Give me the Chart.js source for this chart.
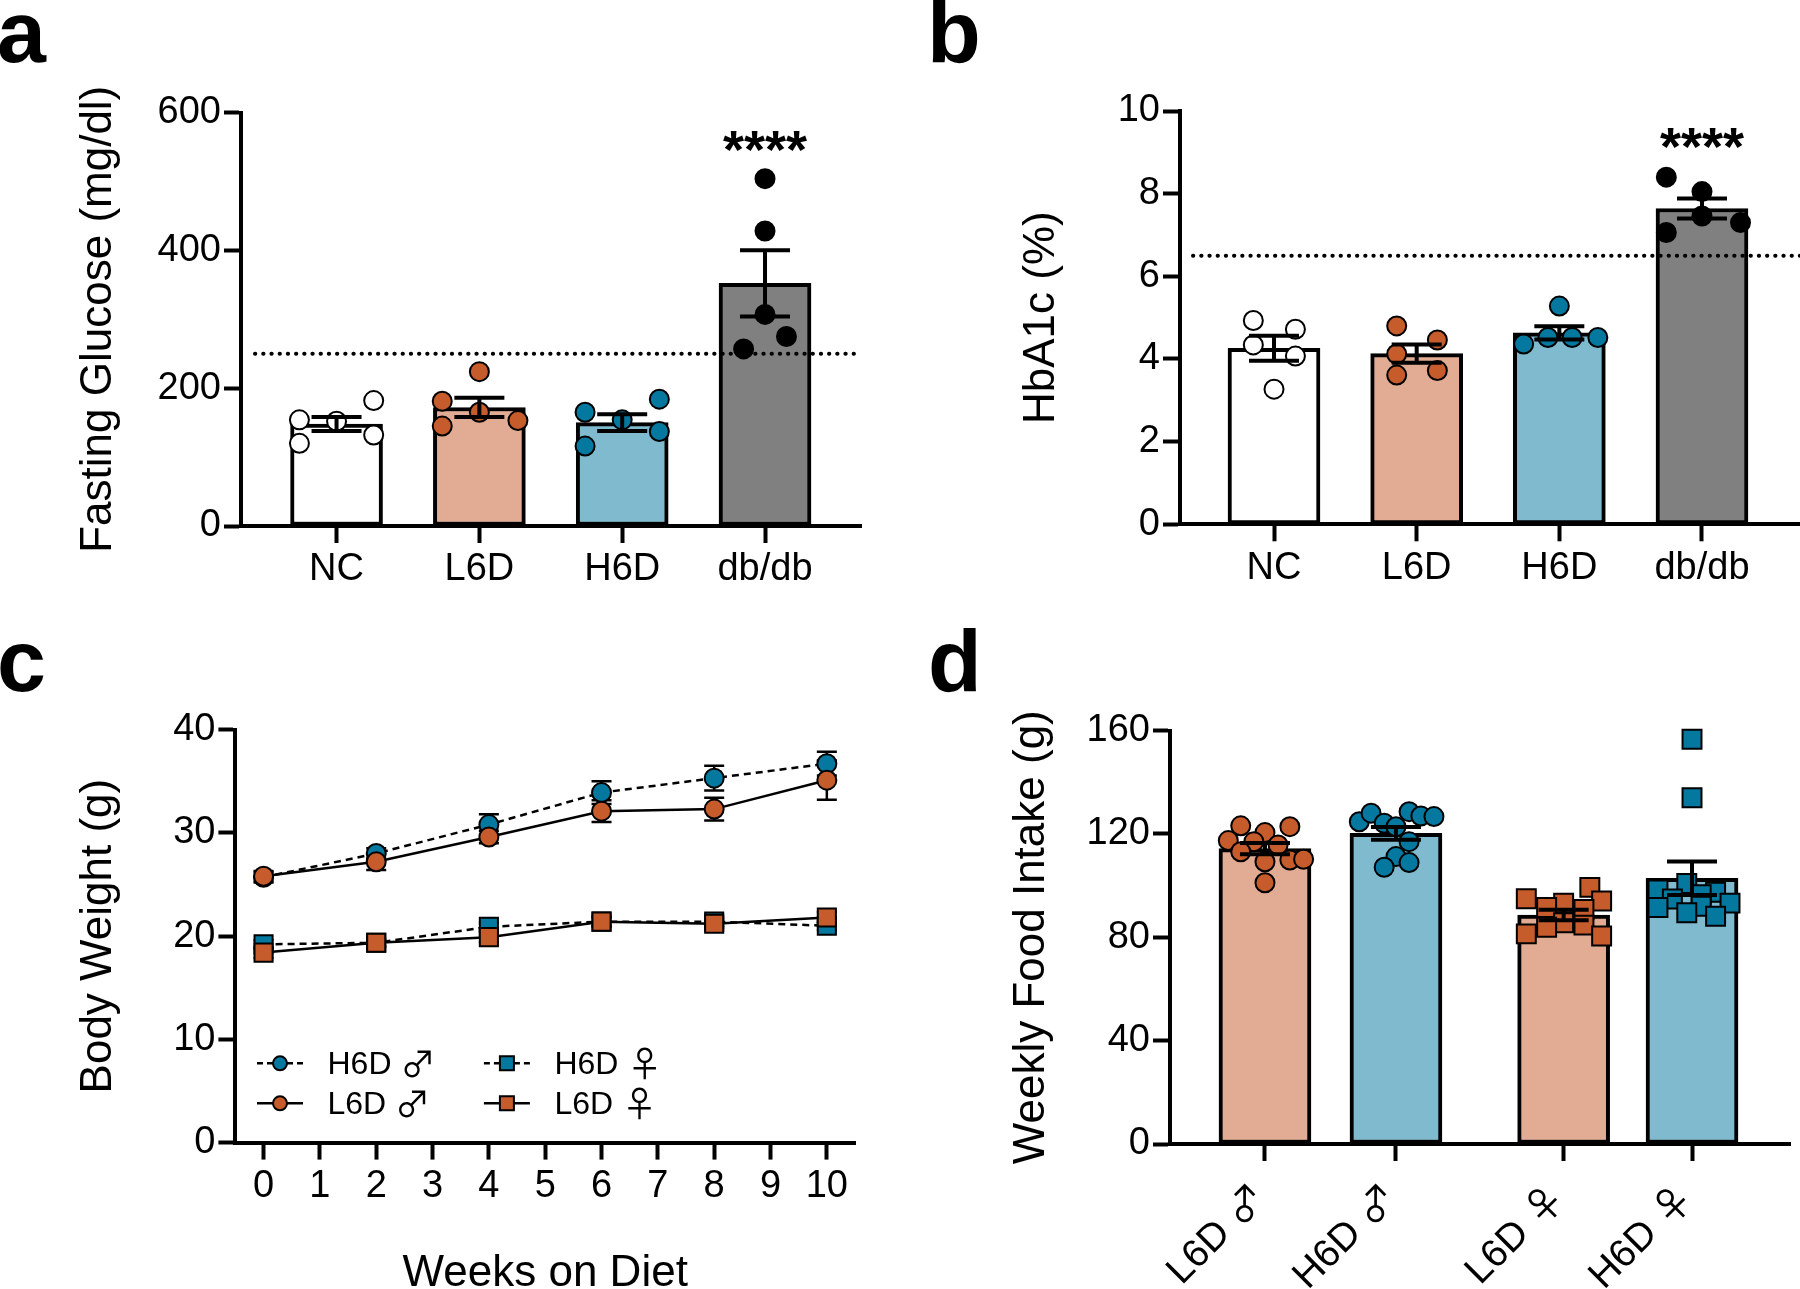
<!DOCTYPE html>
<html><head><meta charset="utf-8">
<script src="https://cdn.jsdelivr.net/npm/chart.js@4.4.1/dist/chart.umd.min.js"></script>
<style>
html,body{margin:0;padding:0;background:#fff;width:1800px;height:1289px;overflow:hidden;position:relative;font-family:'Liberation Sans',Arial,Helvetica,sans-serif;}
canvas{position:absolute;}
.lbl{position:absolute;font-weight:bold;font-size:88px;line-height:88px;color:#000;}
</style></head><body>
<div class="lbl" style="left:-3px;top:-12px">a</div>
<div class="lbl" style="left:927px;top:-12px">b</div>
<div class="lbl" style="left:-3px;top:617px">c</div>
<div class="lbl" style="left:928px;top:617px">d</div>
<canvas id="ca" width="900" height="600" style="left:0;top:0"></canvas>
<canvas id="cb" width="930" height="600" style="left:900px;top:0"></canvas>
<canvas id="cc" width="900" height="703" style="left:0;top:600px"></canvas>
<canvas id="cd" width="930" height="700" style="left:900px;top:600px"></canvas>
<script>
// ---------------- DATA ----------------
// Panel a: fasting glucose (mg/dl)
const groupsA = ['NC', 'L6D', 'H6D', 'db/db'];
const meanA = [148, 172, 150, 352];
const semA = [10, 14, 12, 48];
const ncA = [154, 152, 182, 120, 132];
const l6dA = [224, 181, 165, 145, 153];
const h6dA = [165, 154, 184, 116, 137];
const dbA = [504, 428, 307, 275, 257];
const ncAJit = [-0.26, 0, 0.26, -0.26, 0.26];
const l6dAJit = [0, -0.26, 0, -0.26, 0.27];
const h6dAJit = [-0.26, 0, 0.26, -0.26, 0.26];
const dbAJit = [0, 0, 0, 0.15, -0.15];
const thresholdA = 250;

// Panel b: HbA1c (%)
const groupsB = ['NC', 'L6D', 'H6D', 'db/db'];
const meanB = [4.26, 4.13, 4.63, 7.64];
const semB = [0.30, 0.22, 0.16, 0.24];
const ncB = [4.93, 4.72, 4.34, 4.07, 3.27];
const l6dB = [4.80, 4.46, 4.12, 3.61, 3.72];
const h6dB = [5.28, 4.36, 4.52, 4.52, 4.52];
const dbB = [8.40, 8.05, 7.46, 7.06, 7.30];
const ncBJit = [-0.145, 0.15, -0.145, 0.15, 0];
const l6dBJit = [-0.14, 0.145, -0.14, -0.14, 0.145];
const h6dBJit = [0, -0.25, -0.08, 0.09, 0.27];
const dbBJit = [-0.25, 0, 0, -0.25, 0.27];
const thresholdB = 6.5;

// Panel c: body weight (g) over weeks
const weeks = [0, 2, 4, 6, 8, 10];
const weekTicks = [0, 1, 2, 3, 4, 5, 6, 7, 8, 9, 10];
const h6dMale = [25.7, 28.0, 30.8, 33.9, 35.3, 36.7];
const h6dMaleErr = [0.5, 0.5, 1.0, 1.1, 1.2, 1.15];
const l6dMale = [25.8, 27.2, 29.6, 32.1, 32.3, 35.1];
const l6dMaleErr = [0.5, 0.8, 0.6, 1.05, 1.1, 1.9];
const h6dFemale = [19.2, 19.35, 20.9, 21.4, 21.4, 21.0];
const h6dFemaleErr = [0.4, 0.3, 0.4, 0.4, 0.4, 0.4];
const l6dFemale = [18.4, 19.35, 19.9, 21.4, 21.2, 21.8];
const l6dFemaleErr = [0.5, 0.4, 0.5, 0.5, 0.4, 0.5];

// Panel d: weekly food intake (g)
const groupsD = ['L6D \u2642', 'H6D \u2642', 'L6D \u2640', 'H6D \u2640'];
const posD = [0, 1, 2.28, 3.26];
const meanD = [114.3, 120.2, 88.6, 102.8];
const semD = [2.2, 2.5, 2.0, 6.5];
const l6dMaleD = [123.1, 120.5, 122.8, 117.4, 117.0, 115.7, 113.1, 109.2, 109.9, 110.2, 101.1];
const l6dMaleDJit = [-0.185, 0, 0.19, -0.28, -0.085, 0.1, -0.185, 0, 0.19, 0.295, 0];
const h6dMaleD = [124.7, 128.0, 124.1, 122.8, 128.6, 126.9, 126.7, 117.0, 111.2, 107.1, 108.9];
const h6dMaleDJit = [-0.28, -0.19, -0.09, 0, 0.1, 0.19, 0.29, 0.1, 0, -0.09, 0.1];
const l6dFemaleD = [99.3, 94.9, 93.2, 94.0, 91.5, 90.7, 85.6, 84.7, 83.9, 81.3, 80.5];
const l6dFemaleDJit = [0.2, -0.285, 0, 0.29, -0.13, 0.155, 0, 0.155, -0.13, -0.285, 0.29];
const h6dFemaleD = [156.6, 134.0, 100.8, 98.3, 97.4, 96.5, 94.8, 93.2, 92.0, 91.5, 89.5, 88.1];
const h6dFemaleDJit = [0, 0, -0.04, -0.26, 0.18, 0.07, -0.15, 0.29, 0.07, -0.26, -0.04, 0.18];

// ---------------- STYLE ----------------
const ORANGE = '#C65B2C', SALMON = '#E2AC94', BLUE = '#04789F', LIGHTBLUE = '#80BACE', GRAY = '#808080';
const FONT = "'Liberation Sans', Arial, Helvetica, sans-serif";
const SYMFONT = "'Noto Sans CJK JP', 'Noto Sans CJK SC', 'DejaVu Sans', sans-serif";
Chart.defaults.font.family = FONT;
Chart.defaults.color = '#000';
Chart.defaults.animation = false;

const gridOpts = { display: true, offset: false, drawOnChartArea: false, drawTicks: true, tickLength: 17, tickWidth: 4, tickColor: '#000' };
const borderOpts = { display: true, color: '#000', width: 4, z: 1 };

function yAxis(o) {
  return {
    type: 'linear', position: 'left', min: o.min, max: o.max, offset: false,
    ticks: { stepSize: o.step, font: { size: 38 }, padding: 3, color: '#000' },
    grid: gridOpts, border: borderOpts,
    title: { display: true, text: o.title, color: '#000', font: { size: 44 }, padding: { top: o.titlePad, bottom: 0 } },
    afterFit: (s) => { s.width = o.width; }
  };
}
function xAxis(o) {
  return {
    type: 'linear', position: 'bottom', min: o.min, max: o.max, offset: false, bounds: 'data',
    afterBuildTicks: (s) => { s.ticks = o.pos.map(v => ({ value: v })); },
    ticks: {
      display: !o.hideLabels, autoSkip: false, font: { size: 38 }, padding: 4, color: '#000',
      minRotation: 0, maxRotation: 0,
      callback: (v) => { const i = o.pos.indexOf(v); return i >= 0 ? o.labels[i] : ''; }
    },
    grid: gridOpts, border: borderOpts,
    title: o.title ? { display: true, text: o.title, color: '#000', font: { size: 44 }, padding: { top: 0, bottom: o.titlePad } } : { display: false },
    afterFit: (s) => { s.height = o.height; }
  };
}
function pts(vals, jit, pos) { return vals.map((v, i) => ({ x: pos + jit[i], y: v })); }

function errPlugin(items, cap, lw, layer) {
  const draw = (chart) => {
    const { ctx } = chart; const x = chart.scales.x, y = chart.scales.y;
    ctx.save(); ctx.strokeStyle = '#000'; ctx.lineWidth = lw; ctx.lineCap = 'butt';
    items.forEach(it => {
      const px = x.getPixelForValue(it.x), t = y.getPixelForValue(it.y + it.e), b = y.getPixelForValue(it.y - it.e);
      ctx.beginPath();
      ctx.moveTo(px, t); ctx.lineTo(px, b);
      ctx.moveTo(px - cap, t); ctx.lineTo(px + cap, t);
      ctx.moveTo(px - cap, b); ctx.lineTo(px + cap, b);
      ctx.stroke();
    });
    ctx.restore();
  };
  return {
    id: 'errbars',
    beforeDatasetsDraw(chart) { if (layer === 'before') draw(chart); },
    afterDatasetsDraw(chart) { if (layer !== 'before') draw(chart); }
  };
}
function refLinePlugin(value, startOff, endOff) {
  return {
    id: 'refline',
    afterDatasetsDraw(chart) {
      const { ctx, chartArea } = chart; const y = chart.scales.y.getPixelForValue(value);
      ctx.save(); ctx.strokeStyle = '#000'; ctx.lineWidth = 4; ctx.lineCap = 'round'; ctx.setLineDash([0.3, 7.9]);
      ctx.beginPath(); ctx.moveTo(chartArea.left + startOff, y); ctx.lineTo(chartArea.right - endOff, y); ctx.stroke();
      ctx.restore();
    }
  };
}
function sigPlugin(xv, yv, text) {
  return {
    id: 'sig',
    afterDraw(chart) {
      const { ctx } = chart;
      ctx.save(); ctx.fillStyle = '#000'; ctx.font = 'bold 54px ' + FONT; ctx.textAlign = 'center'; ctx.textBaseline = 'alphabetic';
      ctx.fillText(text, chart.scales.x.getPixelForValue(xv), chart.scales.y.getPixelForValue(yv));
      ctx.restore();
    }
  };
}
// rotated category labels with a separate font for the sex symbols
function rotLabelPlugin(labels, pos) {
  return {
    id: 'rotlabels',
    afterDraw(chart) {
      const { ctx } = chart; const xs = chart.scales.x;
      labels.forEach((lab, i) => {
        const parts = lab.split(' ');
        const px = xs.getPixelForValue(pos[i]) - 6, py = xs.top + 46;
        ctx.save();
        ctx.translate(px, py); ctx.rotate(-Math.PI / 4);
        ctx.fillStyle = '#000'; ctx.textBaseline = 'alphabetic'; ctx.textAlign = 'right';
        ctx.font = '40px ' + SYMFONT;
        const sw = ctx.measureText(parts[1]).width;
        ctx.fillText(parts[1], 0, 15);
        ctx.font = '39px ' + FONT;
        ctx.fillText(parts[0] + ' ', -sw, 13);
        ctx.restore();
      });
    }
  };
}

function barChart(id, o) {
  const datasets = [{
    type: 'bar', order: 1,
    data: o.means.map((m, i) => ({ x: o.pos[i], y: m })),
    backgroundColor: o.fills, borderColor: '#000', borderWidth: 4, borderSkipped: false, barThickness: 92
  }];
  o.points.forEach(p => datasets.push({
    type: 'scatter', order: 0, clip: false,
    data: p.data, pointStyle: p.style || 'circle', pointRadius: p.r || 9.5, pointHoverRadius: p.r || 9.5,
    pointBackgroundColor: p.color, pointBorderColor: '#000', pointBorderWidth: 2
  }));
  const plugins = [errPlugin(o.means.map((m, i) => ({ x: o.pos[i], y: m, e: o.sems[i] })), 25, 4, 'after')];
  if (o.ref !== undefined) plugins.push(refLinePlugin(o.ref, o.refOff, o.refEnd));
  if (o.sig) plugins.push(sigPlugin(o.sig.x, o.sig.y, o.sig.text));
  if (o.rotLabels) plugins.push(rotLabelPlugin(o.x.labels, o.pos));
  return new Chart(document.getElementById(id), {
    type: 'bar',
    data: { datasets },
    options: {
      responsive: false, devicePixelRatio: 1, animation: false,
      layout: { padding: o.padding },
      plugins: { legend: { display: false }, tooltip: { enabled: false } },
      scales: { x: xAxis(o.x), y: yAxis(o.y) }
    },
    plugins
  });
}

// ---------- Panel a ----------
const posA = [0, 1, 2, 3];
barChart('ca', {
  means: meanA, sems: semA, pos: posA,
  fills: ['#FFFFFF', SALMON, LIGHTBLUE, GRAY],
  points: [
    { data: pts(ncA, ncAJit, posA[0]), color: '#FFFFFF' },
    { data: pts(l6dA, l6dAJit, posA[1]), color: ORANGE },
    { data: pts(h6dA, h6dAJit, posA[2]), color: BLUE },
    { data: pts(dbA, dbAJit, posA[3]), color: '#000000' }
  ],
  ref: thresholdA, refOff: 14, refEnd: 3,
  sig: { x: posA[3], y: 520, text: '****' },
  padding: { left: 0, top: 112.5, right: 39, bottom: 0 },
  x: { min: -0.669, max: 3.672, pos: posA, labels: groupsA, height: 74 },
  y: { min: 0, max: 600, step: 200, title: 'Fasting Glucose (mg/dl)', titlePad: 72.8, width: 241 }
});

// ---------- Panel b ----------
const posB = [0, 1, 2, 3];
barChart('cb', {
  means: meanB, sems: semB, pos: posB,
  fills: ['#FFFFFF', SALMON, LIGHTBLUE, GRAY],
  points: [
    { data: pts(ncB, ncBJit, posB[0]), color: '#FFFFFF' },
    { data: pts(l6dB, l6dBJit, posB[1]), color: ORANGE },
    { data: pts(h6dB, h6dBJit, posB[2]), color: BLUE },
    { data: pts(dbB, dbBJit, posB[3]), color: '#000000' }
  ],
  ref: thresholdB, refOff: 13, refEnd: 0,
  sig: { x: posB[3], y: 8.7, text: '****' },
  padding: { left: 0, top: 111, right: 30, bottom: 0 },
  x: { min: -0.659, max: 3.687, pos: posB, labels: groupsB, height: 75.7 },
  y: { min: 0, max: 10, step: 2, title: 'HbA1c (%)', titlePad: 115.8, width: 280 }
});

// ---------- Panel d ----------
barChart('cd', {
  means: meanD, sems: semD, pos: posD,
  fills: [SALMON, LIGHTBLUE, SALMON, LIGHTBLUE],
  points: [
    { data: pts(l6dMaleD, l6dMaleDJit, posD[0]), color: ORANGE },
    { data: pts(h6dMaleD, h6dMaleDJit, posD[1]), color: BLUE },
    { data: pts(l6dFemaleD, l6dFemaleDJit, posD[2]), color: ORANGE, style: 'rect', r: 13.4 },
    { data: pts(h6dFemaleD, h6dFemaleDJit, posD[3]), color: BLUE, style: 'rect', r: 13.4 }
  ],
  rotLabels: true,
  padding: { left: 0, top: 130.5, right: 40, bottom: 0 },
  x: { min: -0.725, max: 4.008, pos: posD, labels: groupsD, height: 156, hideLabels: true },
  y: { min: 0, max: 160, step: 40, title: 'Weekly Food Intake (g)', titlePad: 105.8, width: 270 }
});

// ---------- Panel c ----------
const seriesC = [
  { name: 'H6D', sym: '\u2642', vals: h6dMale, err: h6dMaleErr, color: BLUE, style: 'circle', dash: true, order: 1 },
  { name: 'L6D', sym: '\u2642', vals: l6dMale, err: l6dMaleErr, color: ORANGE, style: 'circle', dash: false, order: 0 },
  { name: 'H6D', sym: '\u2640', vals: h6dFemale, err: h6dFemaleErr, color: BLUE, style: 'rect', dash: true, order: 1 },
  { name: 'L6D', sym: '\u2640', vals: l6dFemale, err: l6dFemaleErr, color: ORANGE, style: 'rect', dash: false, order: 0 }
];
const legendC = {
  id: 'legendC',
  afterDraw(chart) {
    const { ctx, chartArea } = chart;
    const cols = [chartArea.left + 44.6, chartArea.left + 271.5];
    const rows = [chartArea.bottom - 79.3, chartArea.bottom - 39.3];
    ctx.save();
    seriesC.forEach((s, i) => {
      const mx = cols[Math.floor(i / 2)], my = rows[i % 2];
      ctx.strokeStyle = '#000'; ctx.lineWidth = 2.5; ctx.setLineDash(s.dash ? [6, 4] : []);
      ctx.beginPath(); ctx.moveTo(mx - 23, my); ctx.lineTo(mx + 23, my); ctx.stroke();
      ctx.setLineDash([]); ctx.lineWidth = 2; ctx.fillStyle = s.color;
      ctx.beginPath();
      if (s.style === 'circle') ctx.arc(mx, my, 7, 0, Math.PI * 2); else ctx.rect(mx - 7, my - 7, 14, 14);
      ctx.fill(); ctx.stroke();
      ctx.fillStyle = '#000'; ctx.textAlign = 'left'; ctx.textBaseline = 'alphabetic';
      ctx.font = '32px ' + FONT;
      const tx = mx + 47.5;
      ctx.fillText(s.name, tx, my + 11);
      const w = ctx.measureText(s.name + ' ').width;
      ctx.font = '35px ' + SYMFONT;
      ctx.fillText(s.sym, tx + w, my + 14);
    });
    ctx.restore();
  }
};
const errItemsC = [];
seriesC.forEach(s => s.vals.forEach((v, i) => errItemsC.push({ x: weeks[i], y: v, e: s.err[i] })));
new Chart(document.getElementById('cc'), {
  type: 'line',
  data: {
    datasets: seriesC.map(s => ({
      label: s.name + ' ' + s.sym, order: s.order, clip: false,
      data: s.vals.map((v, i) => ({ x: weeks[i], y: v })),
      borderColor: '#000', borderWidth: 2.5, borderDash: s.dash ? [7, 5] : [],
      pointStyle: s.style, pointRadius: s.style === 'rect' ? 12.8 : 9.5, pointHoverRadius: s.style === 'rect' ? 12.8 : 9.5,
      pointBackgroundColor: s.color, pointBorderColor: '#000', pointBorderWidth: 2
    }))
  },
  options: {
    responsive: false, devicePixelRatio: 1, animation: false,
    layout: { padding: { left: 0, top: 129.6, right: 45, bottom: 0 } },
    plugins: { legend: { display: false }, tooltip: { enabled: false } },
    scales: {
      x: xAxis({ min: -0.5, max: 10.5, pos: weekTicks, labels: weekTicks.map(String), height: 160.4, title: 'Weeks on Diet', titlePad: 2.6 }),
      y: yAxis({ min: 0, max: 40, step: 10, title: 'Body Weight (g)', titlePad: 72.8, width: 235.4 })
    }
  },
  plugins: [errPlugin(errItemsC, 10, 2.5, 'before'), legendC]
});
</script>
</body></html>
